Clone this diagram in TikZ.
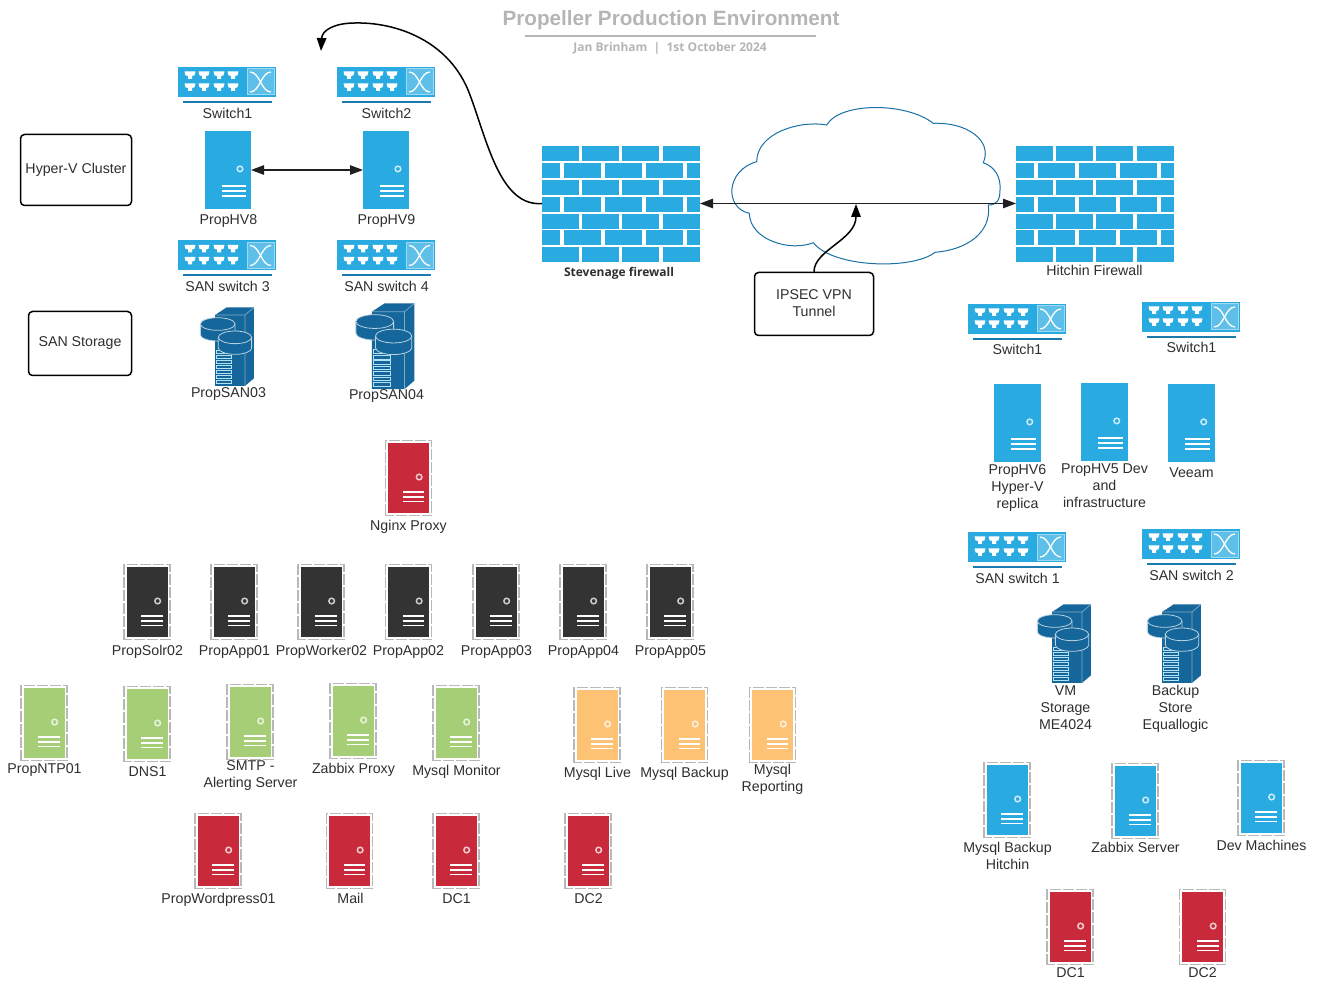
\documentclass[tikz,border=0pt]{standalone}
\usepackage{fontspec}
\setmainfont{Liberation Sans}
\newfontfamily\myr{Open Sans}
\usetikzlibrary{arrows.meta}
\definecolor{cblue}{HTML}{29ABE2}
\definecolor{cred}{HTML}{C82A3B}
\definecolor{cdark}{HTML}{333333}
\definecolor{cgreen}{HTML}{A5CE76}
\definecolor{corange}{HTML}{FDC273}
\definecolor{cstore}{HTML}{15669A}
\definecolor{ctxt}{HTML}{2E2E2E}
\definecolor{ctitle}{HTML}{B5B5B5}
\tikzset{
 srvbody/.style={inner sep=0pt,outer sep=0pt,draw=none},
 lbl/.style={inner sep=0pt,align=center,text=ctxt,font=\fontsize{14.2}{17}\selectfont},
 infobox/.style={draw=black,line width=1.5pt,rounded corners=4pt,inner sep=0pt,align=center,text=ctxt,font=\fontsize{14.2}{17}\selectfont},
 link/.style={draw=black!88,line width=1.1pt,{Triangle[length=13pt,width=9.5pt]}-{Triangle[length=13pt,width=9.5pt]}},
 linkone/.style={draw=black,line width=1.5pt,-{Triangle[length=13pt,width=9.5pt]}},
 frameline/.style={draw=black!28,line width=1.5pt,dash pattern=on 11pt off 2pt},
 brick/.style={fill=cblue,draw=none},
}
% name, cx, cy, w, h, colour
\newcommand\srv[6]{%
 \node[srvbody,fill=#6,minimum width=#4pt,minimum height=#5pt] (#1) at (#2,#3) {};
 \begin{scope}[shift={(#2,#3)},x=#4pt,y=-#5pt]
  \draw[draw=white!75!#6,line width=1.5pt,fill=#6] (0.26,-0.014) circle[radius=2.8pt];
  \foreach \d in {0.205,0.27,0.335}
    \draw[white,line width=1.8pt] (-0.14,\d) -- (0.39,\d);
 \end{scope}}
% framed server
\newcommand\fsrv[4]{%
 \srv{#1}{#2}{#3}{41}{70}{#4}
 \draw[frameline] ([shift={(-2.5pt,-2.5pt)}]#1.south west) rectangle ([shift={(2.5pt,2.5pt)}]#1.north east);}
% name, cx, cy
\newcommand\switch[3]{%
 \node[srvbody,fill=cblue,minimum width=98pt,minimum height=30pt] (#1) at (#2,#3) {};
 \begin{scope}[shift={(#2,#3)}]
  \foreach \xx in {-37,-23,-8,6} \foreach \yy in {-7,5}{
    \fill[white,shift={(\xx,\yy)}] (-5.5,-3.6) -- (5.5,-3.6) -- (4.5,0.4) -- (2,0.9) -- (2,3.8) -- (-2,3.8) -- (-2,0.9) -- (-4.5,0.4) -- cycle;}
  \draw[draw=white!55!cblue,fill=white!25!cblue,line width=1pt] (20,-13) rectangle (47,13);
  \draw[white,line width=1.3pt] (23,-10) .. controls (33,-10) and (34,10) .. (44,10);
  \draw[white,line width=1.3pt] (23,10) .. controls (33,10) and (34,-10) .. (44,-10);
  \draw[cstore!70!cblue,line width=2pt] (-44,20) -- (45,20);
 \end{scope}}
% name, cx, cy, scale
\newcommand\storage[4]{%
 \node[srvbody,minimum width=#4*55pt,minimum height=#4*78pt] (#1) at (#2,#3) {};
 \begin{scope}[shift={(#2,#3)},x=#4*0.333pt,y=-#4*0.333pt,shift={(-114,-138)}]
  \fill[cstore] (75,45) -- (110,22) -- (192,22) -- (192,235) -- (165,258) -- (75,258) -- cycle;
  \draw[white!45!cstore,line width=0.7pt] (75,45) -- (165,45) -- (192,22) (165,45) -- (165,258);
  \foreach \yy in {150,165,180,195,210,225,240}
    \draw[white!65!cblue,line width=0.8pt] (78,\yy) rectangle (125,\yy+10);
  \draw[white!70!cstore,line width=0.8pt,fill=cstore] (31,72) -- (31,104) arc[start angle=180,end angle=0,x radius=52,y radius=19] -- (135,72);
  \draw[white!70!cstore,line width=0.8pt,fill=cstore] (83,72) ellipse[x radius=52,y radius=19];
  \draw[white!70!cstore,line width=0.8pt,fill=cstore] (85,112) -- (85,144) arc[start angle=180,end angle=0,x radius=50,y radius=19] -- (185,112);
  \draw[white!70!cstore,line width=0.8pt,fill=cstore] (135,112) ellipse[x radius=50,y radius=19];
 \end{scope}}
% name, left x, top y
\newcommand\firewall[3]{%
 \node[srvbody,minimum width=158pt,minimum height=115pt,anchor=north west] (#1) at (#2,#3) {};
 \begin{scope}[shift={(#2,#3)}]
  \foreach \yy in {0,34,68,101}{
   \fill[brick] (0,\yy) rectangle (37,\yy+14.7);
   \fill[brick] (40.3,\yy) rectangle (76.7,\yy+14.7);
   \fill[brick] (80.3,\yy) rectangle (117.3,\yy+14.7);
   \fill[brick] (120.7,\yy) rectangle (158,\yy+14.7);}
  \foreach \yy in {17,51,84}{
   \fill[brick] (0,\yy) rectangle (18,\yy+14.7);
   \fill[brick] (22,\yy) rectangle (59,\yy+14.7);
   \fill[brick] (63,\yy) rectangle (100,\yy+14.7);
   \fill[brick] (104,\yy) rectangle (141,\yy+14.7);
   \fill[brick] (145,\yy) rectangle (158,\yy+14.7);}
 \end{scope}}
\newcommand\lab[4]{\node[lbl] (#1) at (#2+0.5,#3) {#4};}
\begin{document}
\begin{tikzpicture}[x=1pt,y=-1pt]
\useasboundingbox (0,0) rectangle (1318,981);
% title
\node[inner sep=0pt,text=ctitle,font=\fontsize{20.7}{24}\selectfont\bfseries] (title) at (671,20.5) {Propeller Production Environment};
\coordinate (ruleL) at (525,36);
\coordinate (ruleR) at (816,36);
\draw[ctitle,line width=1.2pt] (ruleL) -- (ruleR);
\node[inner sep=0pt,text=ctitle,font=\fontsize{12}{14}\selectfont\myr\bfseries] (subtitle) at (670,48) {Jan Brinham\ \ |\ \ 1st October 2024};
% switches
\switch{swa}{227}{82}\switch{swb}{386}{82}\switch{swc}{227}{255.5}\switch{swd}{386}{255.5}
\switch{swe}{1017}{319}\switch{swf}{1191}{317}\switch{swg}{1017}{547}\switch{swh}{1191}{544}
% firewalls
\firewall{fwl}{542}{146}
\firewall{fwr}{1016}{146}
% cloud
\draw[cstore!85!cblue,line width=1pt] (756.7,161.7)
 .. controls (756.7,133) and (800,120) .. (826.7,125)
 .. controls (840,102) and (906,102) .. (933.3,123.3)
 .. controls (966,122) and (993,140) .. (983.3,162.7)
 .. controls (995,167) and (1001,177) .. (1000,190)
 .. controls (1000,200) and (997,205) .. (988.3,205)
 .. controls (992,233) and (966,250) .. (935,252.3)
 .. controls (913,270) and (833,268) .. (813.3,242.7)
 .. controls (790,252) and (750,240) .. (749.3,213.3)
 .. controls (724,208) and (726,170) .. (756.7,161.7) -- cycle;
% servers
\srv{hva}{228}{170}{46}{78}{cblue}
\srv{hvb}{386}{170}{46}{78}{cblue}
\srv{hvc}{1017.5}{423}{47}{78}{cblue}
\srv{hvd}{1104.5}{422}{47}{78}{cblue}
\srv{hve}{1191.5}{423}{47}{78}{cblue}
\fsrv{msb}{1007}{800}{cblue}
\fsrv{zbs}{1135}{801}{cblue}
\fsrv{dvm}{1261}{798}{cblue}
\fsrv{ngx}{408.5}{478}{cred}
\fsrv{wp}{218}{851}{cred}
\fsrv{mail}{349.5}{851}{cred}
\fsrv{dca}{456}{851}{cred}
\fsrv{dcb}{588}{851}{cred}
\fsrv{dcc}{1070}{927}{cred}
\fsrv{dcd}{1202.5}{927}{cred}
\fsrv{da}{147}{602}{cdark}
\fsrv{db}{234}{602}{cdark}
\fsrv{dc}{321}{602}{cdark}
\fsrv{dd}{408.5}{602}{cdark}
\fsrv{de}{496}{602}{cdark}
\fsrv{df}{583}{602}{cdark}
\fsrv{dg}{670}{602}{cdark}
\fsrv{ga}{44}{723}{cgreen}
\fsrv{gb}{147}{724}{cgreen}
\fsrv{gc}{250}{722}{cgreen}
\fsrv{gd}{353}{721}{cgreen}
\fsrv{ge}{456}{723}{cgreen}
\fsrv{oa}{597}{725}{corange}
\fsrv{ob}{684.5}{725}{corange}
\fsrv{oc}{772.5}{725}{corange}
% storage
\storage{sa}{228}{346}{1}
\storage{sb}{386}{345.5}{1.09}
\storage{sc}{1065}{643}{1}
\storage{sd}{1175}{643}{1}
% boxes
\node[infobox,minimum width=111pt,minimum height=71pt] (hyperv) at (76,170) {Hyper-V Cluster};
\node[infobox,minimum width=103pt,minimum height=64pt] (sanst) at (80,343.5) {SAN Storage};
\node[infobox,minimum width=119pt,minimum height=63pt] (ipsec) at (814,304) {\raisebox{2pt}{IPSEC VPN}\\\raisebox{2pt}{Tunnel}};
% connectors
\draw[link] (hva.east) -- (hvb.west);
\draw[link] (fwl.east) -- (fwr.west);
\coordinate (tunnelend) at (856,204);
\coordinate (swarrow) at (321,51);
\draw[linkone] (ipsec.north) .. controls (814,250) and (856,240) .. (tunnelend);
\draw[linkone] (fwl.west) .. controls (500,207) and (487,140) .. (470,95)
  .. controls (450,40) and (395,22) .. (355,23)
  .. controls (335,23) and (322,30) .. (swarrow);
% labels
\lab{l1}{227}{113}{Switch1}\lab{l2}{386}{113}{Switch2}
\lab{l3}{228}{221}{PropHV8}\lab{l4}{386}{221}{PropHV9}
\lab{l5}{227}{286}{SAN switch 3}\lab{l6}{386}{286}{SAN switch 4}
\lab{l7}{228}{394.5}{PropSAN03}\lab{l8}{386}{396}{PropSAN04}
\lab{l9}{408}{527}{Nginx Proxy}
\lab{l10}{147}{652}{PropSolr02}\lab{l11}{234}{652}{PropApp01}\lab{l12}{321}{652}{PropWorker02}
\lab{l13}{408}{652}{PropApp02}\lab{l14}{496}{652}{PropApp03}\lab{l15}{583}{652}{PropApp04}\lab{l16}{670}{652}{PropApp05}
\lab{l17}{44}{770.5}{PropNTP01}\lab{l18}{147}{771.5}{DNS1}\lab{l19}{250}{776}{SMTP -\\Alerting Server}
\lab{l20}{353}{769.5}{Zabbix Proxy}\lab{l21}{456}{771.5}{Mysql Monitor}
\lab{l22}{597}{774}{Mysql Live}\lab{l23}{684}{774}{Mysql Backup}\lab{l24}{772}{779}{Mysql\\Reporting}
\lab{l25}{218}{900}{PropWordpress01}\lab{l26}{350}{898.5}{Mail}\lab{l27}{456}{899}{DC1}\lab{l28}{588}{899}{DC2}
\lab{l29}{1094}{270.5}{Hitchin Firewall}
\node[inner sep=0pt,text=ctxt,font=\fontsize{12}{15}\selectfont\myr\bfseries] (l30) at (619,273) {Stevenage firewall};
\lab{l31}{1017}{349}{Switch1}\lab{l32}{1191}{347}{Switch1}
\lab{l33}{1017}{488}{PropHV6\\Hyper-V\\replica}\lab{l34}{1104}{485.5}{PropHV5 Dev\\and\\infrastructure}\lab{l35}{1191}{473}{Veeam}
\lab{l36}{1017}{578}{SAN switch 1}\lab{l37}{1191}{575}{SAN switch 2}
\lab{l38}{1065}{708}{VM\\Storage\\ME4024}\lab{l39}{1175}{708.5}{Backup\\Store\\Equallogic}
\lab{l40}{1007}{855.5}{Mysql Backup\\Hitchin}\lab{l41}{1135}{847}{Zabbix Server}\lab{l42}{1261}{845}{Dev Machines}
\lab{l43}{1070}{973}{DC1}\lab{l44}{1202}{973}{DC2}
\end{tikzpicture}
\end{document}
